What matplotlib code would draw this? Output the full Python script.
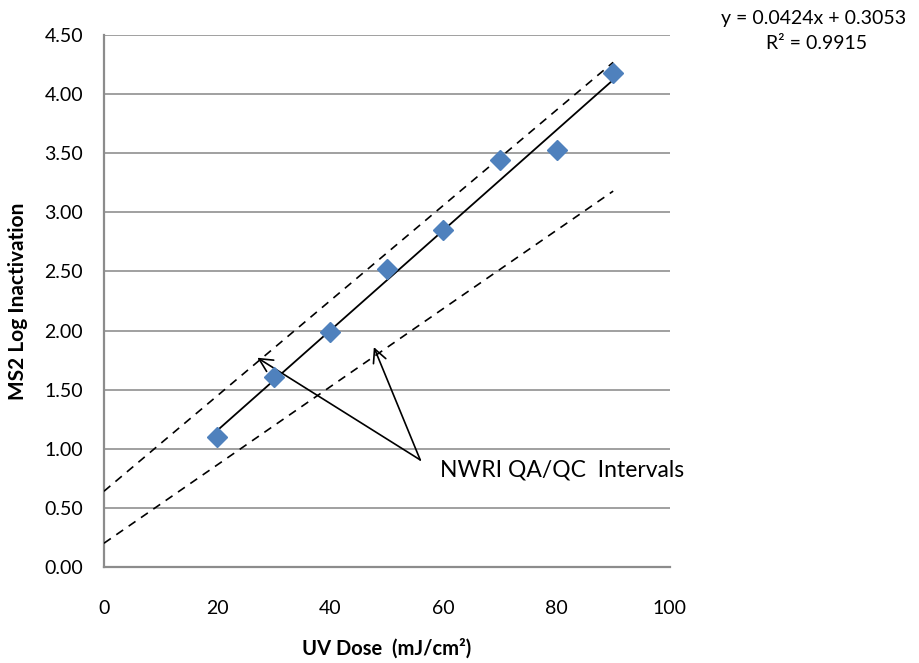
import numpy as np
import matplotlib.pyplot as plt

plt.rcParams['font.family'] = ['Lato', 'DejaVu Sans']

# measured MS2 inactivation
dose = [20, 30, 40, 50, 60, 70, 80, 90]
log_inact = [1.10, 1.61, 1.99, 2.52, 2.85, 3.44, 3.53, 4.18]

# linear fit shown on chart
slope, intercept = 0.0424, 0.3053
fit_range = [20, 90]

# NWRI QA/QC bounds (end points)
qa_dose = [0, 90]
qa_upper = [0.64, 4.27]
qa_lower = [0.20, 3.18]

fig = plt.figure(figsize=(9.2, 6.63), dpi=100)
ax = fig.add_axes([0.113, 0.145, 0.615, 0.802])

fx = np.array(fit_range)
ax.plot(fx, slope * fx + intercept, color='black', lw=1.3, zorder=3)
ax.plot(qa_dose, qa_upper, color='black', lw=1.2, ls=(0, (5, 4)), zorder=3)
ax.plot(qa_dose, qa_lower, color='black', lw=1.2, ls=(0, (5, 4)), zorder=3)
ax.plot(dose, log_inact, ls='none', marker='D', ms=10.5, color='#4F81BD', zorder=4)

ax.set_xlim(0, 100)
ax.set_ylim(0, 4.5)
ax.set_xticks(range(0, 101, 20))
ax.set_yticks(np.arange(0, 4.51, 0.5))
ax.set_yticklabels([f'{v:.2f}' for v in np.arange(0, 4.51, 0.5)])
ax.tick_params(length=0, labelsize=14, colors='black')
ax.tick_params(axis='x', pad=24)
ax.tick_params(axis='y', pad=15)
ax.grid(axis='y', color='#999999', lw=1.3)
ax.set_axisbelow(True)
for s in ['top', 'right']:
    ax.spines[s].set_visible(False)
for s in ['left', 'bottom']:
    ax.spines[s].set_color('#8c8c8c')
    ax.spines[s].set_linewidth(1.6)

ax.set_xlabel('UV Dose  (mJ/cm²)', fontsize=14.5, fontweight='bold', labelpad=15)
ax.set_ylabel('MS2 Log Inactivation', fontsize=15, fontweight='bold', labelpad=12)

# arrows to the QA/QC lines
for tip in [(27.1, 1.77), (47.7, 1.86)]:
    ax.annotate('', xy=tip, xytext=(55.9, 0.905),
                arrowprops=dict(arrowstyle='->', color='black', lw=1.2,
                                mutation_scale=24, shrinkA=0, shrinkB=0))
ax.text(59.4, 0.82, 'NWRI QA/QC  Intervals', fontsize=16.5, va='center', ha='left',
        clip_on=False)

fig.text(0.884, 0.972, f'y = {slope}x + {intercept}', fontsize=14, ha='center', va='center')
fig.text(0.888, 0.935, 'R² = 0.9915', fontsize=14, ha='center', va='center')

fig.savefig('out.png', dpi=100)
